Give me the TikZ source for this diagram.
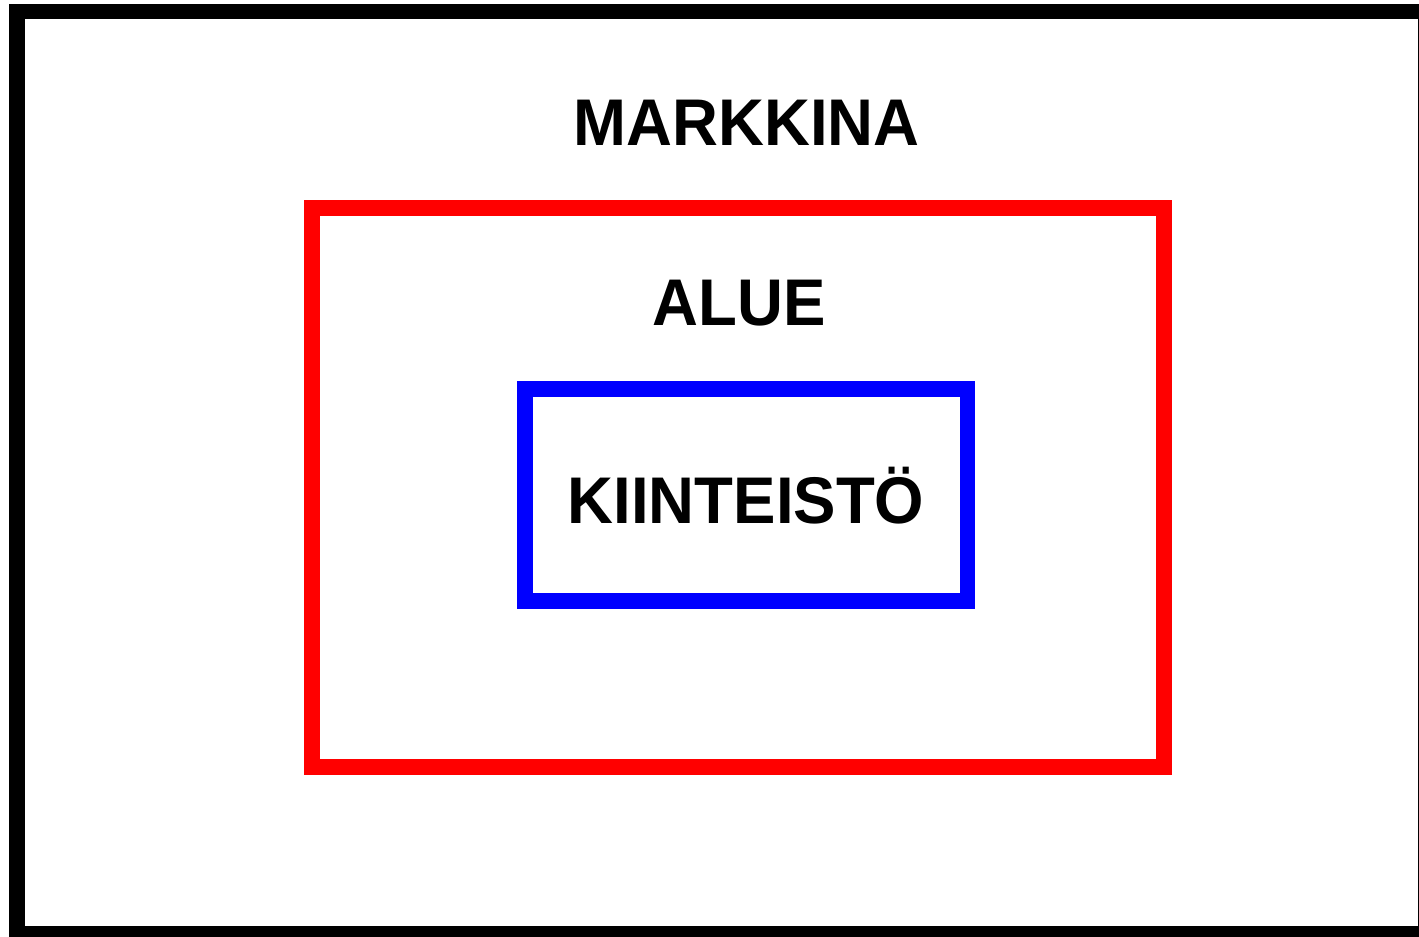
\documentclass[tikz,border=0pt]{standalone}
\usepackage{fontspec}
\setmainfont{Liberation Sans}[FakeStretch=0.963]
\begin{document}
\begin{tikzpicture}[x=1pt,y=-1pt,
  frame/.style={line width=15.5pt},
  lbl/.style={font=\fontsize{66}{66}\selectfont\bfseries, inner sep=0pt, anchor=base}]
\useasboundingbox (0,0) rectangle (1419,937);
\clip (0,0) rectangle (1419,937);
\draw[frame, black] (17,11.5) rectangle (1426,933.5);
\draw[frame, red] (312,208) rectangle (1164,767);
\draw[frame, blue] (525,389) rectangle (967.5,601);
\node[lbl] (markkina) at (746.5,145) {MARKKINA};
\node[lbl] (alue) at (739,325) {ALUE};
\node[lbl] (kiinteisto) at (746,523) {KIINTEISTÖ};
\end{tikzpicture}
\end{document}
